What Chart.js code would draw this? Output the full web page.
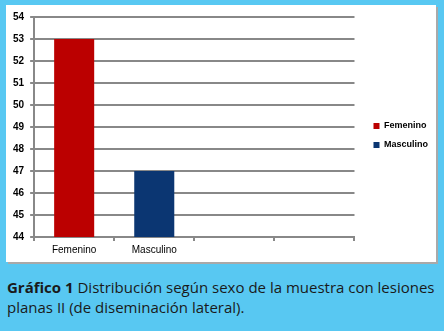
<!DOCTYPE html>
<html>
<head>
<meta charset="utf-8">
<script src="https://cdn.jsdelivr.net/npm/chart.js@4"></script>
<style>
  body { margin: 0; background: #58c8f2; width: 444px; height: 331px; overflow: hidden; }
  #box { position: absolute; left: 6px; top: 5px; width: 430px; height: 257px; background: #fff;
         box-shadow: 2px 2px 0 #a9a9a9; }
  #caption { position: absolute; left: 7px; top: 277px; width: 436px; font-family: "Open Sans", sans-serif;
             font-size: 15px; line-height: 20px; color: #1a1a1a; }
  #caption b { font-weight: 700; }
</style>
</head>
<body>
<div id="box"><canvas id="chart" width="430" height="257"></canvas></div>
<div id="caption"><b>Gráfico 1</b> Distribución según sexo de la muestra con lesiones planas II (de diseminación lateral).</div>
<script>
const categories = ["Femenino", "Masculino", "", ""];
const values = [53, 47, null, null];
const colors = ["#bb0000", "#0b3672"];
const yTicks = [44, 54];

// push the legend a bit away from the plot, like the original
const legendShift = {
  id: "legendShift",
  afterLayout(chart) {
    chart.legend.left += 9;
    chart.legend.right += 9;
  },
};

const canvas = document.querySelector('#chart');
var myChart = new Chart(canvas.getContext("2d"), {
  type: "bar",
  data: {
    labels: categories,
    datasets: [{
      data: values,
      backgroundColor: colors,
      categoryPercentage: 1,
      barPercentage: 0.5,
    }],
  },
  plugins: [legendShift],
  options: {
    responsive: false,
    animation: false,
    layout: { padding: { left: 1, top: 7, right: 7, bottom: 3 } },
    plugins: {
      tooltip: { enabled: false },
      legend: {
        position: "right",
        labels: {
          boxWidth: 6, boxHeight: 6, padding: 10, color: "#000",
          font: { family: "Liberation Sans", size: 9, weight: "bold" },
          generateLabels: (chart) => categories.slice(0, 2).map((c, i) => ({
            text: c, fillStyle: colors[i], strokeStyle: colors[i], lineWidth: 0, index: i,
          })),
        },
      },
    },
    scales: {
      y: {
        min: yTicks[0], max: yTicks[1],
        ticks: { stepSize: 1, color: "#000", padding: 6, font: { family: "Liberation Sans", size: 10, weight: "bold" } },
        grid: { color: "#888", lineWidth: 2, tickLength: 4 },
        border: { color: "#888", width: 2 },
      },
      x: {
        ticks: { color: "#000", padding: 3, font: { family: "Liberation Sans", size: 10 } },
        grid: { offset: true, drawOnChartArea: false, color: "#888", lineWidth: 2, tickLength: 4 },
        border: { color: "#888", width: 2 },
      },
    },
  },
});
</script>
</body>
</html>
